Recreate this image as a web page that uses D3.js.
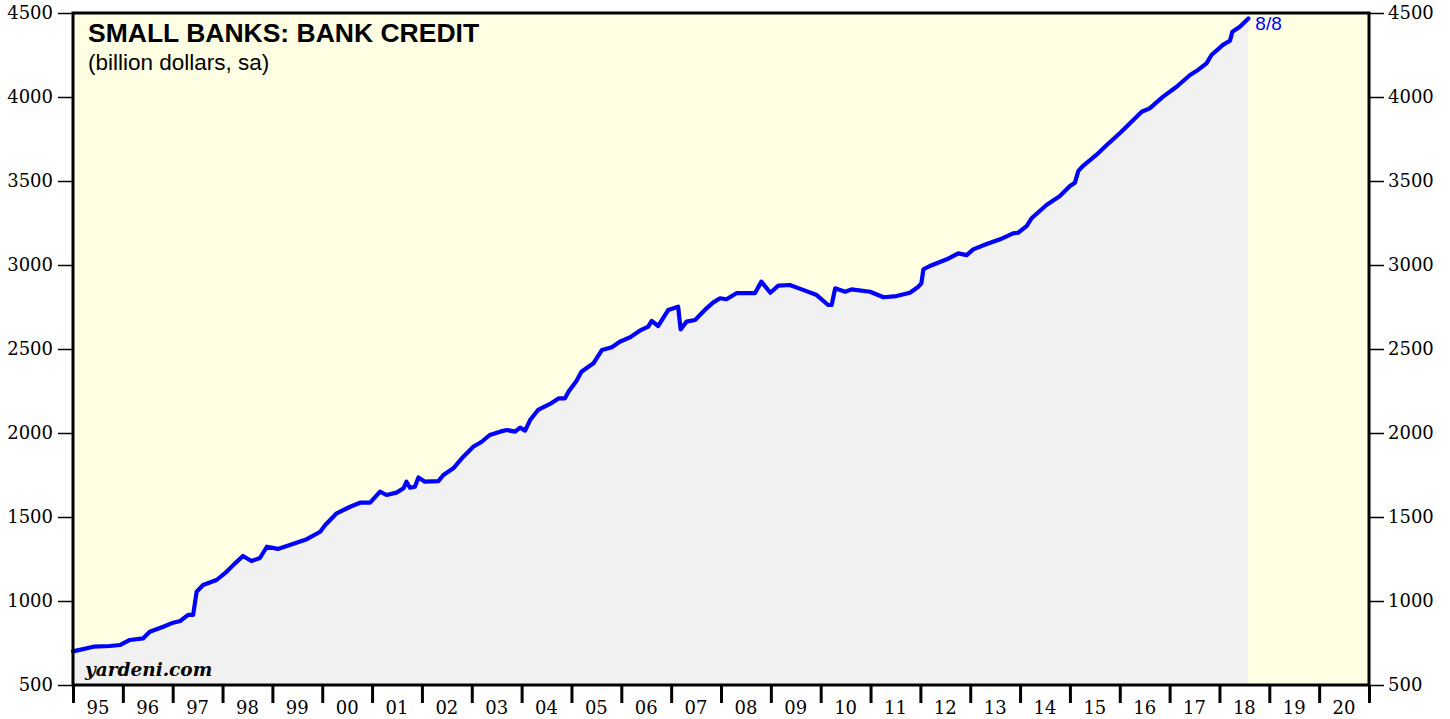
<!DOCTYPE html>
<html>
<head>
<meta charset="utf-8">
<script src="https://cdn.jsdelivr.net/npm/d3@7"></script>
<style>
  body { margin: 0; background: #fff; }
  svg { display: block; }
</style>
</head>
<body>
<div id="chart"></div>
<script>
// data (decimal year, billion dollars)
var dates = [1995.00, 1995.41, 1995.74, 1995.94, 1996.14, 1996.41, 1996.54, 1996.81, 1997.01, 1997.15,
  1997.31, 1997.41, 1997.48, 1997.61, 1997.88, 1998.08, 1998.25, 1998.41, 1998.58, 1998.75,
  1998.89, 1999.11, 1999.35, 1999.69, 1999.96, 2000.06, 2000.29, 2000.56, 2000.76, 2000.96,
  2001.16, 2001.29, 2001.49, 2001.63, 2001.69, 2001.76, 2001.86, 2001.93, 2002.06, 2002.33,
  2002.43, 2002.63, 2002.83, 2003.03, 2003.20, 2003.36, 2003.57, 2003.70, 2003.87, 2003.97,
  2004.07, 2004.17, 2004.33, 2004.57, 2004.74, 2004.87, 2004.94, 2005.10, 2005.20, 2005.44,
  2005.61, 2005.81, 2005.97, 2006.17, 2006.37, 2006.54, 2006.61, 2006.74, 2006.94, 2007.14,
  2007.19, 2007.31, 2007.48, 2007.71, 2007.84, 2007.98, 2008.11, 2008.31, 2008.68, 2008.81,
  2008.99, 2009.15, 2009.38, 2009.62, 2009.92, 2010.15, 2010.22, 2010.29, 2010.49, 2010.62,
  2010.99, 2011.26, 2011.52, 2011.79, 2011.96, 2012.02, 2012.06, 2012.19, 2012.53, 2012.76,
  2012.93, 2013.06, 2013.33, 2013.60, 2013.86, 2013.96, 2014.13, 2014.23, 2014.53, 2014.80,
  2015.00, 2015.10, 2015.17, 2015.27, 2015.53, 2015.74, 2016.00, 2016.17, 2016.44, 2016.60,
  2016.87, 2017.14, 2017.41, 2017.57, 2017.74, 2017.84, 2018.07, 2018.21, 2018.26, 2018.41,
  2018.58];
var credit = [700, 728, 732, 738, 768, 778, 817, 847, 871, 881,
  917, 917, 1055, 1095, 1125, 1174, 1224, 1268, 1238, 1256,
  1323, 1310, 1333, 1368, 1412, 1452, 1522, 1561, 1585, 1585,
  1651, 1631, 1645, 1671, 1710, 1674, 1680, 1735, 1710, 1714,
  1750, 1790, 1859, 1918, 1948, 1988, 2008, 2018, 2008, 2032,
  2014, 2077, 2137, 2173, 2206, 2206, 2246, 2310, 2365, 2415,
  2494, 2510, 2543, 2569, 2609, 2633, 2667, 2637, 2732, 2752,
  2617, 2663, 2673, 2742, 2776, 2802, 2796, 2832, 2832, 2901,
  2835, 2877, 2881, 2855, 2821, 2762, 2762, 2861, 2841, 2855,
  2841, 2808, 2815, 2835, 2871, 2891, 2974, 2994, 3034, 3069,
  3059, 3093, 3125, 3153, 3188, 3192, 3232, 3278, 3357, 3411,
  3470, 3490, 3560, 3592, 3655, 3714, 3784, 3833, 3912, 3932,
  4002, 4061, 4131, 4161, 4200, 4250, 4310, 4335, 4389, 4418,
  4467];
var yTicks = [500, 1000, 1500, 2000, 2500, 3000, 3500, 4000, 4500];
var yearTicks = d3.range(1995, 2022);
var yearLabels = d3.range(1995, 2021);
var lastLabel = "8/8";

var margin = {top: 13, right: 81, bottom: 34, left: 73},
    width = 1450 - margin.left - margin.right,
    height = 719 - margin.top - margin.bottom;

var svg = d3.select("#chart")
  .append("svg")
  .attr("width", 1450)
  .attr("height", 719)
  .append("g")
    .attr("transform", "translate(" + margin.left + "," + margin.top + ")");

var x = d3.scaleLinear().domain([1995, 2021]).range([0, width]);
var y = d3.scaleLinear().domain([500, 4500]).range([height, 0]);

var data = dates.map(function (d, i) { return {t: d, v: credit[i]}; });

// plot background
svg.append("rect")
  .attr("width", width)
  .attr("height", height)
  .style("fill", "#ffffe3");

// shaded area under the line
svg.append("path")
  .datum(data)
  .attr("d", d3.area()
    .x(function (d) { return x(d.t); })
    .y0(height)
    .y1(function (d) { return y(d.v); }))
  .style("fill", "#f1f1f1");

// the line
svg.append("path")
  .datum(data)
  .attr("d", d3.line()
    .x(function (d) { return x(d.t); })
    .y(function (d) { return y(d.v); }))
  .style("fill", "none")
  .style("stroke", "#0000ff")
  .style("stroke-width", 4.2)
  .style("stroke-linejoin", "round")
  .style("stroke-linecap", "round");

// last date label
var last = data[data.length - 1];
svg.append("text")
  .attr("x", x(last.t) + 7)
  .attr("y", y(last.v) + 11)
  .style("font-family", "Liberation Sans, Arial, sans-serif")
  .style("font-size", "19px")
  .style("fill", "#0000ff")
  .text(lastLabel);

// left / right axes
var tickFont = "DejaVu Serif, serif";
var yLeft = svg.append("g")
  .call(d3.axisLeft(y).tickValues(yTicks).tickFormat(d3.format("d")).tickSize(15).tickPadding(5));
var yRight = svg.append("g")
  .attr("transform", "translate(" + width + ",0)")
  .call(d3.axisRight(y).tickValues(yTicks).tickFormat(d3.format("d")).tickSize(15).tickPadding(4));
[yLeft, yRight].forEach(function (g) {
  g.select(".domain").remove();
  g.selectAll("line").style("stroke", "#000").style("stroke-width", 1.5);
  g.selectAll("text")
    .style("font-family", tickFont)
    .style("font-size", "18px")
    .style("fill", "#000");
});

// bottom axis: ticks at year boundaries, labels centred in each year
var xAxis = svg.append("g")
  .attr("transform", "translate(0," + height + ")")
  .call(d3.axisBottom(x).tickValues(yearTicks).tickSize(18).tickFormat(""));
xAxis.select(".domain").remove();
xAxis.selectAll("line").style("stroke", "#000").style("stroke-width", 3);

svg.append("g")
  .selectAll(null)
  .data(yearLabels)
  .enter()
  .append("text")
    .attr("x", function (d) { return x(d + 0.5); })
    .attr("y", height + 29)
    .attr("text-anchor", "middle")
    .style("font-family", tickFont)
    .style("font-size", "18px")
    .text(function (d) { return String(d).slice(2); });

// frame
svg.append("rect")
  .attr("width", width)
  .attr("height", height)
  .style("fill", "none")
  .style("stroke", "#000")
  .style("stroke-width", 3);

// titles
svg.append("text")
  .attr("x", 15)
  .attr("y", 29)
  .style("font-family", "Liberation Sans, Arial, sans-serif")
  .style("font-weight", "bold")
  .style("font-size", "26.5px")
  .text("SMALL BANKS: BANK CREDIT");
svg.append("text")
  .attr("x", 15)
  .attr("y", 57)
  .style("font-family", "Liberation Sans, Arial, sans-serif")
  .style("font-size", "22.5px")
  .text("(billion dollars, sa)");
svg.append("text")
  .attr("x", 12)
  .attr("y", height - 9)
  .style("font-family", "DejaVu Serif, serif")
  .style("font-weight", "bold")
  .style("font-style", "italic")
  .style("font-size", "18.5px")
  .text("yardeni.com");
</script>
</body>
</html>
